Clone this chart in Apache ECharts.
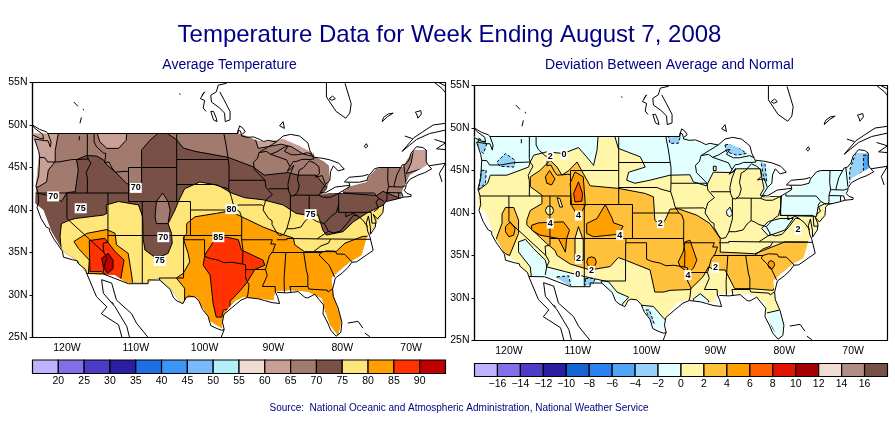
<!DOCTYPE html>
<html>
<head>
<meta charset="utf-8">
<title>Temperature Data for Week Ending August 7, 2008</title>
<script src="https://cdn.jsdelivr.net/npm/echarts@6/dist/echarts.min.js"></script>
<style>
html, body { margin: 0; padding: 0; background: #fff; }
#chart { width: 895px; height: 423px; }
</style>
</head>
<body>
<div id="chart"></div>
<script type="text/javascript">
// all rings and lines below are [lon, lat]

// tick labels
var lonTicks = [-120, -110, -100, -90, -80, -70];
var tempBarLabels = [20, 25, 30, 35, 40, 45, 50, 55, 60, 65, 70, 75, 80, 85, 90];
var devBarLabels = [-16, -14, -12, -10, -8, -6, -4, -2, 0, 2, 4, 6, 8, 10, 12, 14, 16];

// colour bars: lower edge of each box, then its colour
var tempBarEdges = [15, 20, 25, 30, 35, 40, 45, 50, 55, 60, 65, 70, 75, 80, 85, 90];
var tempBarColors = ['#bfb3ff', '#8270e8', '#4c3cc8', '#2c1ea0', '#1e6ee6', '#3c96f5', '#78b9fb', '#b4f0fa',
	'#f0dcd2', '#c8a096', '#a37a6e', '#785046', '#ffe678', '#ffa000', '#ff3200', '#c00000'];
var devBarEdges = [-18, -16, -14, -12, -10, -8, -6, -4, -2, 0, 2, 4, 6, 8, 10, 12, 14, 16];
var devBarColors = ['#bfb3ff', '#8270e8', '#4c3cc8', '#2c1ea0', '#1464d2', '#2882f0', '#50a5f5', '#96d2fa', '#e1ffff',
	'#fff6aa', '#ffc03c', '#ffa000', '#ff6000', '#e11400', '#a50000', '#f0dcd2', '#b08c82', '#785046'];

// where the analysis has data, coarser than the real coast
var dataMask = [[-125,49],[-94.9,49],[-93.4,48.6],[-92.5,48.2],[-91.3,48],[-88.6,48.35],[-86.4,47.6],[-84.2,46.67],[-84,46.3],
	[-82.6,45.7],[-81.9,45.2],[-81.8,43.5],[-82.3,42.35],[-83,41.8],[-81.8,42],[-79.9,42],[-79.2,42.75],[-76.5,43.3],[-76,44.1],
	[-75,44.9],[-71.2,45.1],[-70.6,45.9],[-69.5,47.06],[-67.7,47.06],[-67.7,45.3],[-70.2,44.1],[-71.2,42.4],[-71.4,41.4],[-73.6,41],
	[-74,40.5],[-74.2,39.5],[-75.2,38.3],[-76.5,36.7],[-77.2,34.7],[-78.9,33.9],[-80.4,32.9],[-81.6,32],[-81.3,30],[-80.1,27],
	[-80.6,25.2],[-81.8,26.5],[-82.65,28.6],[-82.9,29.6],[-85,30.4],[-87.6,30.6],[-89.8,30.4],[-90,29.4],[-92.2,29.6],[-94.4,29.8],
	[-95.6,29.3],[-96.6,28.4],[-97.3,27.45],[-97.5,26.1],[-99.2,26.9],[-99.7,27.8],[-101.2,29.8],[-102.6,29.7],[-103.3,29],[-105,30.8],
	[-106.7,32],[-108.2,31.5],[-111.3,31.45],[-113,32.35],[-117.1,32.5],[-118.6,34.1],[-120.5,35.1],[-122.2,37.45],[-123.4,40],
	[-124.6,40.8],[-124.5,43],[-124,47],[-124.9,48.6]];

// coast and lakes of the lower 48
var coastUS = [[-122.75,49],[-95.15,49],[-95.15,49.38],[-94.8,49.3],[-94.6,48.7],[-93.8,48.55],[-92.9,48.6],[-92,48.3],[-91.4,48.05],
	[-90.8,48.2],[-89.6,48],[-90.8,47.4],[-92.1,46.75],[-91,46.9],[-90.4,46.55],[-89.5,46.85],[-88.4,47.4],[-87.9,47.47],[-88.4,46.9],
	[-87.4,46.5],[-86.5,46.5],[-85,46.75],[-84.4,46.5],[-84.1,46],[-84.7,45.95],[-85.9,45.95],[-86.7,45.7],[-87.1,45.7],[-87.6,45.1],
	[-88,44.55],[-87.4,44.9],[-87.05,45.25],[-87.6,44.1],[-87.9,43],[-87.8,42.3],[-87.5,41.7],[-87,41.65],[-86.5,42.1],[-86.25,42.8],
	[-86.5,43.6],[-86.25,44.7],[-85.6,45],[-85,45.6],[-84.75,45.78],[-84,45.5],[-83.4,45.1],[-83.3,44.3],[-83.9,43.9],[-83.4,43.95],
	[-82.9,44.05],[-82.45,43],[-82.9,42.4],[-83.2,42],[-83.45,41.72],[-82.7,41.5],[-81.7,41.5],[-80.5,41.98],[-79,42.7],[-78.9,42.9],
	[-79.05,43.27],[-77.5,43.27],[-76.4,43.5],[-76.2,44],[-75.3,44.85],[-74.7,45],[-71.5,45],[-71.3,45.3],[-70.8,45.4],[-70.3,45.9],
	[-70,46.7],[-69.2,47.45],[-68.3,47.35],[-67.8,47.05],[-67.8,45.7],[-67.45,45.2],[-67,44.85],[-68,44.4],[-69,44.1],[-70.2,43.6],
	[-70.7,43],[-70.8,42.6],[-71,42.3],[-70.6,41.95],[-70,41.8],[-70,41.6],[-71.2,41.5],[-72,41.3],[-73.6,41],[-74,40.7],[-74,40.4],
	[-74.1,39.7],[-74.9,38.95],[-75.5,39.5],[-75.1,38.7],[-75.2,38],[-75.9,37.15],[-75.9,37.9],[-76.2,39.3],[-76.5,38.5],[-76.3,37.5],
	[-76,36.9],[-75.5,35.25],[-76.5,34.7],[-77.9,33.9],[-78.6,33.85],[-79.2,33.2],[-80,32.6],[-81,32],[-81.4,30.7],[-81.3,29.8],
	[-80.6,28.5],[-80.05,26.8],[-80.2,25.6],[-80.9,25.15],[-81.7,25.9],[-82.1,26.7],[-82.8,27.8],[-82.7,28.8],[-83.4,29.5],[-84,30.1],
	[-85,29.65],[-85.4,29.7],[-86.4,30.4],[-88,30.25],[-89.4,30.3],[-89.6,30.15],[-89.4,29.8],[-89.1,29],[-90.2,29.1],[-91.3,29.35],
	[-92.2,29.55],[-93.8,29.7],[-94.7,29.4],[-95.9,28.6],[-97.2,27.7],[-97.4,26.8],[-97.15,25.95],[-97.5,25.85],[-98.2,26.05],[-99.1,26.4],
	[-99.5,27.5],[-100.3,28.3],[-100.8,29.25],[-101.4,29.77],[-102.3,29.87],[-102.7,29.7],[-103.15,28.98],[-104,29.3],[-104.5,29.65],
	[-105,30.65],[-106.5,31.75],[-108.2,31.78],[-108.2,31.33],[-111.07,31.33],[-114.8,32.5],[-117.12,32.53],[-117.3,33],[-118.4,33.75],
	[-118.5,34.03],[-119.2,34.15],[-120.5,34.45],[-120.65,35.15],[-121.9,36.6],[-122.5,37.5],[-122.5,37.8],[-123,38],[-123.75,39],
	[-124.35,40.3],[-124.1,41],[-124.2,42],[-124.5,42.85],[-124.1,44],[-123.95,46.2],[-124.1,46.9],[-124.7,48.35],[-123.2,48.15],
	[-122.75,48.15],[-122.4,47.4],[-122.3,48],[-122.75,49]];

// Canada, Mexico and the Bahamas, outside the analysis
var coastOther = [
	[[-125,50],[-124,49.5],[-123,49.2],[-122.75,49]],
	[[-125,48.85],[-124,48.45],[-123.4,48.35],[-123.5,48.9],[-124.5,49.5],[-125,49.9]],
	[[-96.8,54.9],[-98,54.7],[-98.3,53.9],[-99.1,53.5],[-99,52.7],[-97.8,52],[-97.1,51.4],[-97,50.4],[-96.3,50.6],[-96.3,51.6],[-97.2,53],[-97.8,53.9]],
	[[-99.1,51.6],[-98.7,50.6],[-98.2,50.4],[-98.3,50.8],[-98.7,51.6],[-99.1,51.6]],
	[[-100.4,53.5],[-100,53.9],[-100.6,53.1],[-100,52.9],[-100.2,52],[-99.8,51.6]],
	[[-119,52.7],[-118.4,52.2]], [[-117.7,51.85],[-117.5,51.75]], [[-117.9,50.9],[-118.1,50.2]], [[-118.2,48.7],[-118.2,48.2]],
	[[-103.7,53.7],[-103.5,53.6]],
	[[-82.3,55],[-82.3,53.3],[-80.9,51.6],[-79.5,50.8]], [[-79.6,54.9],[-78.7,52.5],[-78.9,51.4],[-79.5,50.8]],
	[[-81.9,53.1],[-81.4,53.4],[-81,53.1],[-81.5,52.9],[-81.9,53.1]],
	[[-74.2,50.4],[-74,50.9],[-73.3,51.3],[-72.6,51.4],[-73.4,51],[-74.2,50.4]],
	[[-69.4,51.5],[-68.6,51.7],[-68.5,51.3],[-69,50.8],[-69.2,51.3],[-69.4,51.5]],
	[[-66.6,55],[-65.5,54.3],[-65,53.8]], [[-66,55],[-65,54.6]],
	[[-71.3,46.9],[-69.6,48.5],[-68.3,49.2],[-66.8,50],[-65,50.2]],
	[[-71.3,46.9],[-69.2,48.3],[-67.3,49],[-65,49.4]],
	[[-70.9,48.7],[-69.8,48.4]], [[-66.6,48.3],[-65,47.9],[-66.3,47.2],[-65,47.1]],
	[[-67.4,45.2],[-65,45.5],[-65.9,44.3],[-65.5,43.3]],
	[[-76.8,47.5],[-76.5,47.8],[-76.3,47.5],[-76.6,47.3],[-76.8,47.5]],
	[[-89.1,49.9],[-88.6,50.4],[-88.4,49.6],[-89.1,49.9]],
	[[-95.2,49],[-95.1,49.4],[-94.9,49.9],[-94.4,49.6],[-94.1,49.2],[-94.6,48.9]],
	[[-89.6,48],[-88.6,48.7],[-87.5,48.9],[-86.2,48.7],[-85,47.9],[-84.7,47],[-84.4,46.5]],
	[[-84.1,46.2],[-83,46.1],[-81.8,45.9],[-80.5,45.5],[-79.7,44.8],[-80.6,44.6],[-81.3,45.2],[-81.7,44.5],[-81.8,43.5],[-82.45,43]],
	[[-83.1,42.1],[-82.5,42],[-81,42.7],[-79.5,42.85],[-78.9,42.9]],
	[[-79.05,43.27],[-79.7,43.3],[-79,43.85],[-77,44],[-76.2,44.2]],
	[[-117.12,32.53],[-115.7,29.8],[-114.2,28.6],[-115,27.8],[-112.5,26.5],[-112,25]],
	[[-114.96,31.8],[-114.7,30.2],[-113,28.6],[-111.3,26.3],[-110.9,25]],
	[[-114.96,31.8],[-113.5,31.4],[-112.8,29.4],[-110.6,27.8],[-109.9,26.7],[-108.2,25]],
	[[-113.5,29.2],[-113.2,28.9]],
	[[-97.15,25.95],[-97.6,25]],
	[[-79.2,26.7],[-78.4,26.8],[-77.7,26.9],[-77,26.1]], [[-76.7,25.5],[-76,25.1]]
];

var stateLines = [
	[[-124,46.2],[-123.2,46.15],[-122.8,45.65],[-121.2,45.65],[-119.3,45.93],[-116.92,46]],
	[[-117.03,49],[-117.04,46.4],[-116.92,46],[-116.5,45.5],[-116.85,45],[-117.2,44.4],[-117.03,43.8],[-117.03,42]],
	[[-124.2,42],[-111.05,42]],
	[[-120,42],[-120,39],[-114.63,35],[-114.15,34.3],[-114.5,33.7],[-114.72,32.72]],
	[[-114.04,42],[-114.04,36.2],[-114.75,36.1],[-114.63,35]],
	[[-114.04,37],[-94.62,37]],
	[[-109.05,41],[-109.05,31.33]],
	[[-111.05,45],[-111.05,41],[-102.05,41],[-102.05,37]],
	[[-111.05,45],[-104.05,45]],
	[[-116.05,49],[-116.05,48],[-115.7,47.45],[-114.7,46.7],[-114.35,46.65],[-114.5,45.55],[-113.9,45.65],[-113.45,44.95],[-113,44.45],[-111.5,44.55],[-111.05,44.5]],
	[[-104.05,49],[-104.05,41]],
	[[-104.05,43],[-98.5,43],[-97.9,42.8],[-96.5,42.5],[-96.1,41.5],[-95.85,40.7],[-95.3,40],[-94.9,39.8],[-94.6,39.1],[-94.62,36.5],[-90.15,36.5],[-90.4,36],[-89.7,36]],
	[[-102.05,40],[-95.3,40]],
	[[-104.05,45.94],[-96.56,45.94]],
	[[-97.2,49],[-96.85,47.5],[-96.56,45.94],[-96.45,45.3],[-96.45,43.5],[-96.5,42.5]],
	[[-96.45,43.5],[-91.22,43.5]],
	[[-92.1,46.75],[-92.3,46.1],[-92.9,45.6],[-92.75,44.75],[-91.22,43.5],[-91.1,42.7],[-90.15,41.8],[-91.1,41.2],[-91.4,40.4],[-91.5,40],[-90.7,39],[-90.2,38.75],[-90.2,38.3],[-89.5,37.3],[-89.15,37]],
	[[-95.8,40.58],[-91.7,40.6],[-91.4,40.4]],
	[[-103,37],[-103,36.5],[-100,36.5],[-100,34.56],[-99.2,34.3],[-98,34.1],[-97.2,33.8],[-96,33.85],[-94.48,33.64],[-94.04,33.55],[-94.04,32],[-93.55,31.2],[-93.7,30.1],[-93.85,29.7]],
	[[-94.62,36.5],[-94.43,35.4],[-94.48,33.64]],
	[[-103.04,36.5],[-103.06,32],[-106.62,32],[-106.5,31.75]],
	[[-94.04,33],[-91.15,33]],
	[[-89.7,36],[-90.1,35.1],[-90.6,34.6],[-91.15,33],[-90.9,32.3],[-91.6,31],[-89.75,31],[-89.7,30.2]],
	[[-89.5,36.5],[-88.05,36.5],[-88.05,36.65],[-83.68,36.6],[-81.68,36.59],[-75.9,36.55]],
	[[-90.3,35],[-84.32,35],[-83.1,35],[-83.35,34.7],[-81.9,33.5],[-81.1,32.1]],
	[[-81.68,36.59],[-82,36.1],[-83.1,35.77],[-84.32,35]],
	[[-88.2,35],[-88.45,31.9],[-88.4,30.25]],
	[[-85.6,35],[-85.2,32.85],[-85,32.3],[-85,31],[-84.85,30.7],[-82.2,30.57],[-82.05,30.36],[-81.45,30.7]],
	[[-87.6,31],[-85,31]], [[-87.6,31],[-87.45,30.35]],
	[[-83.1,35],[-82.3,35.2],[-81,35.15],[-80.8,34.82],[-79.67,34.8],[-78.55,33.87]],
	[[-89.15,37],[-88.5,37.1],[-88.05,37.8],[-87.1,37.8],[-86,38],[-85.4,38.7],[-84.82,39.1],[-84.3,38.95],[-83.7,38.65],[-82.6,38.4],[-82,37.5],[-83.68,36.6]],
	[[-87.53,41.7],[-87.53,39.3],[-88.05,37.8]],
	[[-84.82,39.1],[-84.8,41.75]],
	[[-87,41.76],[-83.45,41.73]],
	[[-90.65,42.5],[-87.8,42.5]],
	[[-90.4,46.55],[-88.1,45.9],[-87.6,45.1]],
	[[-80.52,41.98],[-80.52,39.72]],
	[[-80.52,40.64],[-80.85,39.7],[-81.7,39.2],[-82.6,38.4]],
	[[-80.52,39.72],[-75.8,39.72],[-75.7,38.46],[-75.05,38.45]],
	[[-79.76,42.27],[-79.76,42],[-75.35,42],[-74.7,41.36],[-75.1,40.9],[-74.75,40.2],[-75.4,39.8]],
	[[-74.7,41.36],[-73.9,41]],
	[[-79.48,39.72],[-79.48,39.2],[-78.4,39.62],[-77.75,39.3],[-77.05,38.85],[-76.3,38]],
	[[-82,37.5],[-81.3,37.3],[-80.3,37.5],[-79.3,38.4],[-78.35,39.4],[-77.75,39.3]],
	[[-73.35,45],[-73.4,43.6],[-73.27,42.75],[-73.5,42.05],[-73.5,41.3],[-73.65,41]],
	[[-71.5,45],[-72.05,44.2],[-72.45,43],[-72.45,42.73]],
	[[-71.05,45.3],[-70.75,43.1]],
	[[-73.27,42.75],[-71.3,42.7],[-70.8,42.87]],
	[[-73.5,42.05],[-71.38,42.02],[-71.15,41.5]],
	[[-71.8,42.02],[-71.85,41.32]]
];

// average temperature contours
var tempBelow65A = [[-121.25,50],[-121.25,49],[-121.7,47],[-121.7,45.7],[-122.7,44.7],[-122.95,43.3],[-124.2,42.7],[-126,42.7],[-126,50]];
var tempBelow65B = [[-115.6,50],[-115.6,49],[-115.2,48],[-114.2,47.25],[-112.5,47.25],[-111.4,48.2],[-111.3,49],[-111.3,50]];
var tempBelow65C = [[-92.9,49],[-92.2,47.25],[-90.8,47.45],[-88.9,47.75],[-87.4,47.45],[-85.7,46.6],[-84.2,46.3],[-83.5,47.5],[-86,49]];
var tempBelow65D = [[-69.6,47.3],[-67.4,47.3],[-67.4,45.1],[-70.7,44.3],[-70,45.5]];
var temp70 = [[-126,42],[-124.4,42],[-122,41.6],[-120.8,41],[-120,42.05],[-118.8,42.15],[-118.35,44.7],[-118.6,45.9],[-117.2,46.4],
	[-115.7,46.35],[-114.7,45.9],[-114.2,45.3],[-113,44.5],[-111.3,43.1],[-110.1,42.9],[-109.15,43.1],[-109.15,47.06],[-107.95,48.2],
	[-106.5,49.2],[-105.8,49.2],[-104.1,48.3],[-103.1,47.3],[-101.4,46.9],[-96.6,46.2],[-93,45.1],[-91.3,44.1],[-87.9,44.4],[-86.4,44.1],
	[-83.8,44.1],[-82.6,42.9],[-81,42],[-79.9,42],[-75,41.7],[-74.1,42.2],[-71.7,41.4],[-70,41],[-70,28],[-126,28]];
var temp75 = [[-114.3,40.6],[-112.5,41],[-109.6,40.6],[-109,39.2],[-108.9,36.5],[-108.67,35.3],[-107,34.3],[-105.3,34.9],[-104.7,36.1],
	[-104.8,37.25],[-105.3,38.4],[-104.3,40],[-103.8,41],[-102.9,42.5],[-100.7,43.3],[-98,42.9],[-96.1,42],[-94.2,41.45],[-91.5,41.2],
	[-88.6,40.6],[-86.7,39.6],[-85.2,39.4],[-83.5,39.4],[-82.8,37.6],[-82.3,37.05],[-79.9,37.45],[-78.4,38.6],[-76.5,39.6],[-75.5,40],
	[-74,40.6],[-72,39],[-72,28],[-118,28],[-118.35,33.9],[-120.8,35.1],[-121,36.9],[-120.8,38.4],[-119.6,38.8],[-118.8,39],[-114.7,39.4],[-114.2,39.6]];
var tempBelow70Rockies = [[-106.1,42],[-107,41],[-107.2,39.2],[-107,38.4],[-105.3,38.4],[-105,40],[-105.3,41]];
var temp80East = [[-102.6,38.4],[-101.4,39.2],[-98.3,39.6],[-96.3,39.9],[-94.6,39.2],[-91.5,38],[-89.1,37.25],[-87.1,36.7],[-86.9,35.9],
	[-85.5,35.1],[-80.9,35.1],[-79.6,36.1],[-77,36.9],[-74,36.9],[-74,24],[-102.9,24],[-102.9,30.8],[-104.1,32],[-103.1,32.55],[-102.15,33.9],
	[-102.4,34.9],[-103.1,36.67],[-102.6,37.25]];
var temp80West = [[-118.98,36.3],[-117.1,37.25],[-114.2,37.7],[-113,37.25],[-112.8,35.9],[-111.1,34.9],[-110.6,32.35],[-110.4,31],[-117,31],[-116.75,34.1],[-118.35,35.5]];
var temp85West = [[-116.75,36.4],[-114.5,36.67],[-113,35.1],[-111.7,34.1],[-112.2,31.8],[-113.3,31.8],[-114.96,32.75],[-116.66,32.75]];
var temp90 = [[-114.96,34.3],[-114,34.9],[-113.3,34.1],[-113.3,33.1],[-114.1,32.55],[-114.7,33.33]];
var temp85East = [[-98.5,36.55],[-96.8,36.8],[-95.1,36.5],[-94.65,35.3],[-91.5,34.1],[-91.26,33.5],[-92.7,33],[-93.9,31.4],[-95.4,30],[-96.3,29.3],
	[-96.3,28.4],[-97.3,28.2],[-97.5,27.4],[-98.3,27.4],[-98.76,29],[-99.2,32.35],[-100.2,33.5],[-99.97,34.7]];

// deviation contours
var devNorth = [[-124.4,42.7],[-123.1,43.5],[-122.7,44.45],[-120.3,44.45],[-117.15,45.4],[-116.9,46],[-116.4,46.8],[-114.5,47.2],[-112.1,47],
	[-109.9,47.7],[-108.7,46.6],[-107.7,45.6],[-107.2,47.4],[-107,49.5],[-104.8,49.5],[-104.1,47.6],[-100.9,46.6],[-100.2,45.4],[-102.6,44.8],
	[-102.9,43.86],[-101.7,43.5],[-99.5,43.86],[-96.6,44.45],[-93.7,44.5],[-93.2,43.66],[-91.3,43.2],[-90.3,44.8],[-87.6,44.76],[-86.9,45.2],
	[-83.5,45.2],[-82.95,42.9],[-83.5,42.1],[-83,41.9],[-80.4,42],[-80.6,39.72],[-75.3,39.6],[-75.1,40.7],[-74.1,41.1],[-70,41],[-66,44],[-66,50],[-126,50],[-126,42.7]];
var devSouthwest = [[-118.6,36.6],[-117.6,36.9],[-116.4,35.8],[-114.7,34.45],[-114.5,33.66],[-111.8,33.1],[-108.9,32.5],[-105.5,31.9],[-104.3,30.7],
	[-102.6,30.1],[-103.4,29.4],[-104,28.5],[-112,30],[-116.7,32.2],[-116.9,33.66],[-118.6,35.4]];
var devTexas = [[-100.7,29.15],[-99,29],[-97.5,27.6],[-96.6,27],[-97,24.5],[-100.5,27.8]];
var devFlorida = [[-82.7,28.2],[-80.6,28.6],[-79.5,26.6],[-80.6,24.8],[-82.1,27]];
var devLouisiana = [[-93.2,29.9],[-92.2,30.5],[-91,29.7],[-90.9,29],[-93.2,29]];
var devVirginia = [[-83.3,38.2],[-82.3,39],[-80.6,39.35],[-78.7,39.35],[-79.9,38],[-82.3,37.3]];
var devIllinois = [[-88.4,40.2],[-87.9,40.7],[-87.5,39.9],[-87.9,39.55],[-88.3,39.74]];
var devWashington = [[-121.75,46],[-120.5,47],[-119.1,46.2],[-119.3,45.4],[-121.3,45.5]];
var devPugetSound = [[-124.4,48.8],[-123.2,48.2],[-123.7,47],[-124.6,47.6]];
var devOregon = [[-124,45],[-123.3,45.05],[-123.4,43.5],[-124.4,42.8]];
var devDakota = [[-97,49.5],[-94.9,49.5],[-95.4,48.2],[-96.6,48.2]];
var devSuperior = [[-88.6,48],[-87.4,48.2],[-85.5,47],[-86.9,46.8],[-88.4,47.2]];
var devHuron = [[-83.4,46.2],[-82.8,45.8],[-82.55,43.7],[-82.95,43.9]];
var devMaine = [[-69.5,47.3],[-67.4,47.3],[-67.4,44.8],[-68.8,44.8],[-70.5,43.5],[-70.5,45]];
var devMaineCore = [[-68.5,46.8],[-67.4,46.8],[-67.4,45],[-68.5,45]];
var devArizona = [[-113,32.5],[-111.3,32.6],[-110.9,31],[-113,31]];
var devSonora = [[-108.9,32.3],[-107.5,32.3],[-108,31],[-108.9,31]];
var devBigBend = [[-100.1,28.6],[-99.6,28.6],[-98.9,27],[-99.4,27]];
var dev2West = [[-120.5,40.65],[-119.3,40.65],[-118.6,39.15],[-118.6,37.6],[-119.9,35],[-120.5,35.2],[-122,36.6],[-121,38.8],[-121,39.9]];
var dev2Main = [[-117.4,39.15],[-116.9,40.3],[-115.2,41.1],[-115.2,42.1],[-116.9,43.1],[-116.9,44.25],[-115.5,45],[-114,46.2],[-113,45.4],[-112.3,44.45],
	[-111.3,45],[-110.1,46],[-109.2,44.65],[-108.2,43.2],[-104.1,42.9],[-100.2,42.3],[-99,41.9],[-98.8,39.15],[-98,38.6],[-97.3,39.15],[-96.6,40.45],
	[-95.4,40.5],[-92.7,39.74],[-90.8,38.76],[-89.3,37],[-89.3,35.4],[-86.4,35.3],[-84.3,35.2],[-79.9,36.6],[-77,36.6],[-74,36.5],[-76.8,34.5],[-78.2,33.6],
	[-81.1,31.8],[-81.6,30.9],[-85,31.1],[-87.2,31.1],[-88.6,33.3],[-90.07,33.3],[-91,33.66],[-91.8,32.5],[-93.7,31],[-96.6,30.9],[-97.5,30.7],[-98.8,30.7],
	[-99.5,33.3],[-102.9,34.4],[-104.1,34.76],[-105.3,33.7],[-108.2,33.3],[-111.1,34],[-113,35],[-113.3,35.6],[-114.5,36.4],[-117.4,38.6]];
var devHoleNevada = [[-114.7,40.3],[-114.5,40.7],[-114.1,40.85],[-113.7,40.7],[-113.5,40.3],[-113.7,39.9],[-114.1,39.75],[-114.5,39.9]];
var devHoleUtah = [[-113,41.8],[-112.6,41.7],[-112.2,40.7],[-112.6,40.7]];
var devHoleNewMexico = [[-110.4,37],[-109.9,38.4],[-109.2,36.8],[-109.2,34.45],[-110.4,34.45]];
var devHoleWisconsin = [[-90.3,45.5],[-89.9,45.5],[-89.9,45],[-90.3,45]];
var dev4Idaho = [[-114.7,44.25],[-114.1,45],[-113.3,44],[-113.8,43.3],[-114.5,43.5]];
var dev4Wyoming = [[-111.1,43.5],[-110.4,44.84],[-109.2,44.25],[-108.9,40.9],[-109.9,39.5],[-110.9,40.9]];
var dev6Wyoming = [[-110.6,42.3],[-109.9,43.66],[-109.3,42.3],[-109.4,41.4],[-110.4,41.3]];
var dev4Utah = [[-116.7,38.56],[-115.7,38.84],[-112.1,38.96],[-111.2,38],[-111.6,37],[-111.8,35.4],[-112.8,37],[-115.5,37.4],[-116.7,38]];
var dev4Colorado = [[-106,41],[-107.2,39.35],[-108.7,38.76],[-108.7,37.6],[-107.7,37.2],[-104.1,37.5],[-103.4,38.45],[-104.8,38.84],[-105,39.35]];
var dev4California = [[-120.5,38.4],[-119.8,38.95],[-119.1,38.2],[-119.3,37.4],[-120,37.2],[-120.5,37.8]];
var dev4NewMexico = [[-108.7,34.25],[-108.5,34.7],[-108,34.85],[-107.5,34.7],[-107.3,34.25],[-107.5,33.8],[-108,33.65],[-108.5,33.8]];
var dev4Arkansas = [[-94.4,36.6],[-93.7,36.8],[-92.7,34.45],[-93.2,33.5],[-93.9,33],[-95.1,33.66],[-95.4,34.25],[-94.7,35.4]];
var dev4Georgia = [[-82.4,33.9],[-82.2,34.3],[-81.9,34.4],[-81.5,34.2],[-81.4,33.9],[-81.6,33.55],[-81.9,33.4],[-82.2,33.55]];

// contour labels: lon, lat, text
var tempLabels = [[-122,41.6,'70'],[-110,42.6,'70'],[-118,40.2,'75'],[-96.1,40.1,'80'],[-84.6,39.5,'75'],[-106,36.8,'70'],[-106.5,34,'75'],[-98,36.8,'85']];
var devLabels = [[-114,46.7,'2'],[-112,46.9,'0'],[-109.9,39.7,'4'],[-114,38.76,'4'],[-103.9,37.4,'4'],[-109.9,34.6,'2'],[-110,32.8,'0'],[-108,33.2,'2'],
	[-98,38.8,'2'],[-94,32.7,'4'],[-90,33.6,'2'],[-78,38,'2']];

var tempColor = {c60: tempBarColors[9], c65: tempBarColors[10], c70: tempBarColors[11], c75: tempBarColors[12], c80: tempBarColors[13], c85: tempBarColors[14], c90: tempBarColors[15]};
var devColor = {m4: devBarColors[7], m2: devBarColors[8], z: devBarColors[9], p2: devBarColors[10], p4: devBarColors[11], p6: devBarColors[12], deep: devBarColors[6]};

var tempLayers = [
	{ring: dataMask, fill: tempColor.c65, noLine: true},
	{ring: tempBelow65A, fill: tempColor.c60}, {ring: tempBelow65B, fill: tempColor.c60},
	{ring: tempBelow65C, fill: tempColor.c60}, {ring: tempBelow65D, fill: tempColor.c60},
	{ring: temp70, fill: tempColor.c70}, {ring: temp75, fill: tempColor.c75},
	{ring: tempBelow70Rockies, fill: tempColor.c65},
	{ring: temp80East, fill: tempColor.c80}, {ring: temp80West, fill: tempColor.c80},
	{ring: temp85West, fill: tempColor.c85}, {ring: temp85East, fill: tempColor.c85}, {ring: temp90, fill: tempColor.c90}
];
var devLayers = [
	{ring: dataMask, fill: devColor.z, noLine: true},
	{ring: devNorth, fill: devColor.m2}, {ring: devSouthwest, fill: devColor.m2}, {ring: devTexas, fill: devColor.m2},
	{ring: devFlorida, fill: devColor.m2}, {ring: devLouisiana, fill: devColor.m2}, {ring: devVirginia, fill: devColor.m2}, {ring: devIllinois, fill: devColor.m2},
	{ring: devWashington, fill: devColor.m4, dash: true}, {ring: devPugetSound, fill: devColor.m4, dash: true}, {ring: devOregon, fill: devColor.m4, dash: true},
	{ring: devDakota, fill: devColor.m4, dash: true}, {ring: devSuperior, fill: devColor.m4, dash: true}, {ring: devHuron, fill: devColor.m4, dash: true},
	{ring: devMaine, fill: devColor.m4, dash: true}, {ring: devMaineCore, fill: devColor.deep, dash: true},
	{ring: devArizona, fill: devColor.m4, dash: true}, {ring: devSonora, fill: devColor.m4, dash: true}, {ring: devBigBend, fill: devColor.m4, dash: true},
	{ring: dev2West, fill: devColor.p2}, {ring: dev2Main, fill: devColor.p2},
	{ring: devHoleNevada, fill: devColor.z}, {ring: devHoleUtah, fill: devColor.z}, {ring: devHoleNewMexico, fill: devColor.z}, {ring: devHoleWisconsin, fill: devColor.z},
	{ring: dev4Idaho, fill: devColor.p4}, {ring: dev4Wyoming, fill: devColor.p4}, {ring: dev4Utah, fill: devColor.p4}, {ring: dev4Colorado, fill: devColor.p4},
	{ring: dev4California, fill: devColor.p4}, {ring: dev4NewMexico, fill: devColor.p4}, {ring: dev4Arkansas, fill: devColor.p4}, {ring: dev4Georgia, fill: devColor.p4},
	{ring: dev6Wyoming, fill: devColor.p6}
];

var navy = '#000080';
var axisFont = {color: '#000', fontSize: 10.5, fontFamily: 'Liberation Sans'};

function toPoints(api, ring) {
	return ring.map(function(p) { return api.coord(p); });
}

// filled contours, clipped to the data area
function contourSeries(layers, axisIndex) {
	return {
		type: 'custom', xAxisIndex: axisIndex, yAxisIndex: axisIndex, silent: true, clip: true,
		data: layers.map(function(l, i) { return [i]; }),
		renderItem: function(params, api) {
			var layer = layers[params.dataIndex];
			return {
				type: 'polygon',
				shape: {points: toPoints(api, layer.ring)},
				style: {
					fill: layer.fill,
					stroke: layer.noLine ? null : '#000',
					lineWidth: 1,
					lineDash: layer.dash ? [3, 2] : null
				},
				clipPath: {type: 'polygon', shape: {points: toPoints(api, dataMask)}}
			};
		}
	};
}

// coast, lakes and state lines on top of the fill
function outlineSeries(axisIndex) {
	var lines = [coastUS].concat(coastOther, stateLines);
	return {
		type: 'custom', xAxisIndex: axisIndex, yAxisIndex: axisIndex, silent: true, clip: true,
		data: lines.map(function(l, i) { return [i]; }),
		renderItem: function(params, api) {
			return {
				type: 'polyline',
				shape: {points: toPoints(api, lines[params.dataIndex])},
				style: {fill: null, stroke: '#000', lineWidth: 1}
			};
		}
	};
}

function labelSeries(labels, axisIndex) {
	return {
		type: 'scatter', xAxisIndex: axisIndex, yAxisIndex: axisIndex, silent: true, symbolSize: 0,
		itemStyle: {opacity: 1},
		data: labels,
		label: {
			show: true, position: 'inside', color: '#000', fontSize: 9, fontFamily: 'Liberation Sans', fontWeight: 'bold',
			backgroundColor: '#fff', padding: [1, 1, 0, 1], opacity: 1,
			formatter: function(p) { return p.value[2]; }
		}
	};
}

function barSeries(edges, colors, step, axisIndex) {
	return {
		type: 'custom', xAxisIndex: axisIndex, yAxisIndex: axisIndex, silent: true,
		data: edges.map(function(v) { return [v]; }),
		renderItem: function(params, api) {
			var low = edges[params.dataIndex];
			var a = api.coord([low, 1]);
			var b = api.coord([low + step, 0]);
			return {
				type: 'rect',
				shape: {x: a[0], y: a[1], width: b[0] - a[0], height: b[1] - a[1]},
				style: {fill: colors[params.dataIndex], stroke: '#000', lineWidth: 1.2}
			};
		}
	};
}

function mapXAxis(gridIndex) {
	return {
		type: 'value', gridIndex: gridIndex, min: -125, max: -65, interval: 5,
		axisLine: {show: true, onZero: false, lineStyle: {color: '#000', width: 1.2}},
		axisTick: {show: false},
		splitLine: {show: false},
		axisLabel: Object.assign({customValues: lonTicks, margin: 5, formatter: function(v) { return Math.abs(v) + 'W'; }}, axisFont)
	};
}
function mapYAxis(gridIndex) {
	return {
		type: 'value', gridIndex: gridIndex, min: 25, max: 55, interval: 5,
		axisLine: {show: true, onZero: false, lineStyle: {color: '#000', width: 1.2}},
		axisTick: {show: true, length: 3, lineStyle: {color: '#000'}},
		splitLine: {show: false},
		axisLabel: Object.assign({margin: 5, formatter: function(v) { return v + 'N'; }}, axisFont)
	};
}
function barXAxis(gridIndex, min, max, step, labels) {
	return {
		type: 'value', gridIndex: gridIndex, min: min, max: max, interval: step,
		axisLine: {show: false}, axisTick: {show: false}, splitLine: {show: false},
		axisLabel: Object.assign({customValues: labels, margin: 2, formatter: function(v) { return String(v).replace('-', '\u2212'); }}, axisFont)
	};
}
function barYAxis(gridIndex) {
	return {type: 'value', gridIndex: gridIndex, min: 0, max: 1, show: false};
}

var chart = echarts.init(document.getElementById('chart'));
chart.setOption({
	animation: false,
	backgroundColor: '#fff',
	title: [
		{text: 'Temperature Data for Week Ending August 7, 2008', left: 444.5, top: 18, textAlign: 'center', textStyle: {color: navy, fontSize: 24, fontWeight: 'normal', fontFamily: 'Liberation Sans'}},
		{text: 'Average Temperature', left: 224.5, top: 53, textAlign: 'center', textStyle: {color: navy, fontSize: 14, fontWeight: 'normal', fontFamily: 'Liberation Sans'}},
		{text: 'Deviation Between Average and Normal', left: 664.5, top: 53, textAlign: 'center', textStyle: {color: navy, fontSize: 14, fontWeight: 'normal', fontFamily: 'Liberation Sans'}},
		{text: 'Source:  National Oceanic and Atmospheric Administration, National Weather Service', left: 454, top: 398, textAlign: 'center', textStyle: {color: navy, fontSize: 10, fontWeight: 'normal', fontFamily: 'Liberation Sans'}}
	],
	grid: [
		{left: 32.5, top: 82.5, width: 413, height: 255, show: true, backgroundColor: '#fff', borderColor: '#000', borderWidth: 1.2},
		{left: 474.5, top: 85.5, width: 413, height: 255, show: true, backgroundColor: '#fff', borderColor: '#000', borderWidth: 1.2},
		{left: 32.5, top: 360, width: 413, height: 13.5},
		{left: 474.5, top: 363.5, width: 413, height: 13}
	],
	xAxis: [mapXAxis(0), mapXAxis(1), barXAxis(2, 15, 95, 5, tempBarLabels), barXAxis(3, -18, 18, 2, devBarLabels)],
	yAxis: [mapYAxis(0), mapYAxis(1), barYAxis(2), barYAxis(3)],
	series: [
		contourSeries(tempLayers, 0), outlineSeries(0), labelSeries(tempLabels, 0),
		contourSeries(devLayers, 1), outlineSeries(1), labelSeries(devLabels, 1),
		barSeries(tempBarEdges, tempBarColors, 5, 2),
		barSeries(devBarEdges, devBarColors, 2, 3)
	]
});
</script>
</body>
</html>
